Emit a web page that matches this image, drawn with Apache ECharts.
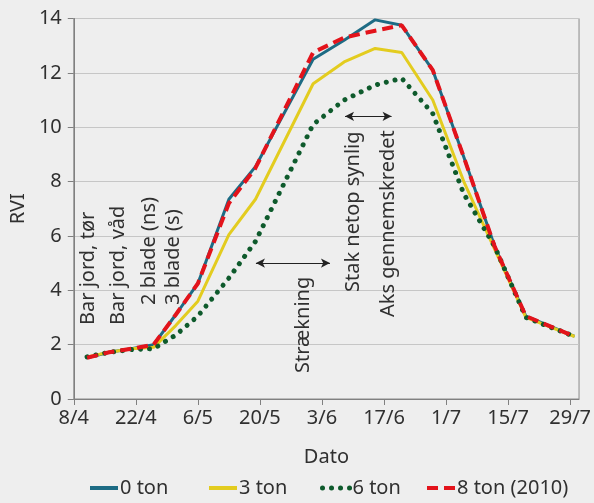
<!DOCTYPE html>
<html><head><meta charset="utf-8">
<script src="https://cdn.jsdelivr.net/npm/echarts@6/dist/echarts.min.js"></script>
<style>html,body{margin:0;padding:0;background:#eeeeee}#c{width:594px;height:503px}</style>
</head><body><div id="c"></div>
<script>
// Days after 8/4
const days = [3, 8, 13, 18, 23, 28, 35, 41, 54, 61, 68, 74, 81, 88, 95, 102, 113];
const ton0 = [1.52, 1.72, 1.85, 2.0, 3.1, 4.25, 7.35, 8.55, 12.5, 13.2, 13.95, 13.75, 12.1, 8.9, 5.6, 3.05, 2.3];
const ton3 = [1.55, 1.72, 1.85, 1.9, 2.7, 3.6, 6.05, 7.35, 11.6, 12.4, 12.9, 12.75, 11.0, 8.0, 5.5, 3.0, 2.3];
const ton6 = [1.55, 1.72, 1.82, 1.85, 2.35, 3.05, 4.45, 5.8, 10.1, 11.0, 11.55, 11.8, 10.5, 7.55, 5.6, 3.0, 2.3];
const ton8 = [1.52, 1.72, 1.85, 2.0, 3.1, 4.25, 7.2, 8.5, 12.75, 13.3, 13.55, 13.75, 12.1, 8.9, 5.6, 3.05, 2.3];
const tickDays = [0, 14, 28, 42, 56, 70, 84, 98, 112];
const tickLabels = ['8/4', '22/4', '6/5', '20/5', '3/6', '17/6', '1/7', '15/7', '29/7'];
const seriesNames = ['0 ton', '3 ton', '6 ton', '8 ton (2010)'];
const noteTexts = ['Bar jord, tør', 'Bar jord, våd', '2 blade (ns)', '3 blade (s)', 'Strækning', 'Stak netop synlig', 'Aks gennemskredet'];

const FONT = '"Noto Sans", "Open Sans", sans-serif';
const TXT = '#303030';
const notePos = [[88, 325], [118, 325], [149, 305], [173, 305], [303, 373], [353, 292], [388, 317]];
const legendLeft = [83, 202, 315, 420];
const colors = ['#1d6b84', '#e3cc1f', '#0e5a2c', '#e3131b'];

const pair = arr => days.map((d, i) => [d, arr[i]]);
const chart = echarts.init(document.getElementById('c'), null, {renderer: 'canvas'});

const lineStyles = [
  {width: 3, color: colors[0], type: 'solid'},
  {width: 3, color: colors[1], type: 'solid'},
  {width: 5, color: colors[2], type: [0.01, 9], cap: 'round'},
  {width: 4, color: colors[3], type: [11, 6]}
];
const datasets = [ton0, ton3, ton6, ton8];

const series = datasets.map((arr, i) => ({
  name: seriesNames[i], type: 'line', data: pair(arr), symbol: 'none', showSymbol: false,
  lineStyle: lineStyles[i], itemStyle: {color: colors[i]}, z: 2 + i, animation: false
}));
series[0].markLine = {
  silent: true, symbol: ['arrow', 'arrow'], symbolSize: [7, 9], animation: false,
  label: {show: false},
  lineStyle: {color: '#222', width: 1, type: 'solid'},
  data: [
    [{coord: [41.1, 5.0]}, {coord: [57.8, 5.0]}],
    [{coord: [61.2, 10.4]}, {coord: [71.7, 10.4]}]
  ]
};

chart.setOption({
  backgroundColor: '#eeeeee',
  animation: false,
  textStyle: {fontFamily: FONT},
  grid: {left: 71, right: 12, top: 18.5, bottom: 104, show: true, borderColor: '#8a8a8a', borderWidth: 1, backgroundColor: 'transparent'},
  xAxis: {
    type: 'value', min: 0, max: 114, interval: 14,
    name: 'Dato', nameLocation: 'middle', nameGap: 48,
    nameTextStyle: {fontSize: 20, color: TXT, fontFamily: FONT},
    axisLine: {show: true, lineStyle: {color: '#808080', width: 1}},
    axisTick: {show: true, length: 6, inside: false, customValues: tickDays, lineStyle: {color: '#808080'}},
    axisLabel: {customValues: tickDays, fontSize: 20, color: TXT, fontFamily: FONT, margin: 9,
      formatter: v => tickLabels[tickDays.indexOf(Math.round(v))] || ''},
    splitLine: {show: false}
  },
  yAxis: {
    type: 'value', min: 0, max: 14, interval: 2,
    name: 'RVI', nameLocation: 'middle', nameGap: 42,
    nameTextStyle: {fontSize: 20, color: TXT, fontFamily: FONT},
    axisLine: {show: true, lineStyle: {color: '#808080', width: 1}},
    axisTick: {show: true, length: 6, lineStyle: {color: '#808080'}},
    axisLabel: {fontSize: 20, color: TXT, fontFamily: FONT, margin: 12},
    splitLine: {show: true, lineStyle: {color: '#c6c6c6', width: 1}}
  },
  legend: seriesNames.map((n, i) => ({
    data: [n], left: legendLeft[i], top: 473, itemWidth: 28, itemHeight: 12, itemGap: 0,
    itemStyle: {opacity: 0},
    lineStyle: {width: i === 2 ? 5 : 4},
    textStyle: {fontSize: 20, color: TXT, fontFamily: FONT, padding: [0, 0, 0, -3]}
  })),
  graphic: noteTexts.map((t, i) => ({
    type: 'text', x: notePos[i][0], y: notePos[i][1], rotation: Math.PI / 2, z: 100,
    style: {text: t, fontSize: 20, fontFamily: FONT, fill: TXT, align: 'left', verticalAlign: 'middle'}
  })),
  series: series
});
</script></body></html>
